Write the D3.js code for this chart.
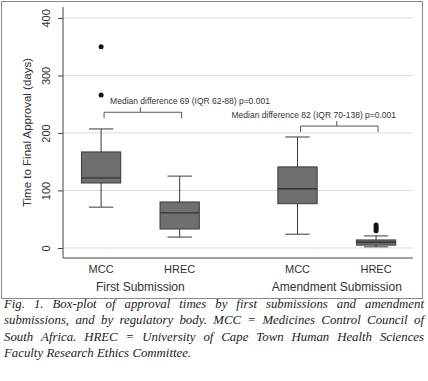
<!DOCTYPE html>
<html>
<head>
<meta charset="utf-8">
<script src="https://cdn.jsdelivr.net/npm/d3@7"></script>
<style>
  body { margin: 0; background: #fff; }
  svg { display: block; }
</style>
</head>
<body>
<div id="chart"></div>
<script>
// data
const bodies = ["MCC", "HREC", "MCC", "HREC"];
const groups = ["First Submission", "Amendment Submission"];
const positions = [0, 1, 2.5, 3.5];
const whiskLow = [71, 19, 24, 2];
const q1 = [113, 33, 77, 5];
const medians = [122, 61, 103, 10];
const q3 = [167, 80, 141, 14];
const whiskHigh = [207, 125, 193, 21];
const outliers = [[266, 350], [], [], [30, 33, 36, 40]];
const yTicks = [0, 100, 200, 300, 400];
const notes = [
    { from: 0, to: 1, at: 236, text: "Median difference 69 (IQR 62-88) p=0.001" },
    { from: 2.5, to: 3.5, at: 212, text: "Median difference 82 (IQR 70-138) p=0.001" },
];
const caption = [
    "Fig. 1. Box-plot of approval times by first submissions and amendment",
    "submissions, and by regulatory body. MCC = Medicines Control Council of",
    "South Africa. HREC = University of Cape Town Human Health Sciences",
    "Faculty Research Ethics Committee.",
];

const width = 428;
const height = 381;

const svg = d3.select("#chart")
    .append("svg")
    .attr("width", width)
    .attr("height", height);

// outer frame of the figure
svg.append("rect")
    .attr("x", 1.5).attr("y", 1.5)
    .attr("width", 421).attr("height", 297)
    .attr("fill", "none")
    .attr("stroke", "#8a8a8a")
    .attr("stroke-width", 1);

const x = d3.scaleLinear().domain([-0.485, 3.97]).range([63, 413]);
const y = d3.scaleLinear().domain([-17.4, 419]).range([258, 7]);
const boxW = x(0.5) - x(0);
const capW = x(0.31) - x(0);

// grid
svg.append("g")
    .selectAll("line")
    .data(yTicks)
    .enter()
    .append("line")
    .attr("x1", x.range()[0]).attr("x2", x.range()[1])
    .attr("y1", (d) => y(d)).attr("y2", (d) => y(d))
    .style("stroke", "#dcdcdc")
    .style("stroke-width", 1);

// y axis
const yAxis = svg.append("g")
    .attr("transform", `translate(${x.range()[0]},0)`)
    .call(d3.axisLeft(y).tickValues(yTicks).tickSize(5).tickPadding(3));
yAxis.select(".domain").attr("d", `M0,${y.range()[1]}V${y.range()[0]}`).style("stroke", "#444");
yAxis.selectAll(".tick line").style("stroke", "#444");
yAxis.selectAll(".tick text")
    .attr("transform", "rotate(-90)")
    .attr("x", 0).attr("y", -13)
    .attr("dy", 0)
    .style("text-anchor", "middle")
    .style("font-family", "Liberation Sans, Arial, sans-serif")
    .style("font-size", "11px")
    .style("fill", "#333");

// x axis line
svg.append("line")
    .attr("x1", x.range()[0]).attr("x2", x.range()[1])
    .attr("y1", y.range()[0]).attr("y2", y.range()[0])
    .style("stroke", "#444");

svg.append("text")
    .attr("transform", `translate(31,${(y.range()[0] + y.range()[1]) / 2}) rotate(-90)`)
    .attr("text-anchor", "middle")
    .style("font-family", "Liberation Sans, Arial, sans-serif")
    .style("font-size", "11.5px")
    .style("fill", "#333")
    .text("Time to Final Approval (days)");

// boxes
const boxes = svg.append("g")
    .selectAll("g")
    .data(bodies.map((b, i) => ({ i, b })))
    .enter()
    .append("g");

boxes.append("line")
    .attr("x1", (d) => x(positions[d.i])).attr("x2", (d) => x(positions[d.i]))
    .attr("y1", (d) => y(whiskLow[d.i])).attr("y2", (d) => y(whiskHigh[d.i]))
    .style("stroke", "#3a3a3a");

boxes.selectAll(".cap")
    .data((d) => [whiskLow[d.i], whiskHigh[d.i]].map((v) => ({ v, p: positions[d.i] })))
    .enter()
    .append("line")
    .attr("class", "cap")
    .attr("x1", (d) => x(d.p) - capW / 2).attr("x2", (d) => x(d.p) + capW / 2)
    .attr("y1", (d) => y(d.v)).attr("y2", (d) => y(d.v))
    .style("stroke", "#3a3a3a");

boxes.append("rect")
    .attr("x", (d) => x(positions[d.i]) - boxW / 2)
    .attr("y", (d) => y(q3[d.i]))
    .attr("width", boxW)
    .attr("height", (d) => y(q1[d.i]) - y(q3[d.i]))
    .style("fill", "#6f6f6f")
    .style("stroke", "#3a3a3a");

boxes.append("line")
    .attr("x1", (d) => x(positions[d.i]) - boxW / 2).attr("x2", (d) => x(positions[d.i]) + boxW / 2)
    .attr("y1", (d) => y(medians[d.i])).attr("y2", (d) => y(medians[d.i]))
    .style("stroke", "#333")
    .style("stroke-width", 1.3);

boxes.selectAll("circle")
    .data((d) => outliers[d.i].map((v) => ({ v, p: positions[d.i] })))
    .enter()
    .append("circle")
    .attr("cx", (d) => x(d.p))
    .attr("cy", (d) => y(d.v))
    .attr("r", 2.5)
    .style("fill", "#151515");

// category labels
svg.append("g")
    .selectAll("text")
    .data(bodies)
    .enter()
    .append("text")
    .attr("x", (d, i) => x(positions[i]))
    .attr("y", 273)
    .attr("text-anchor", "middle")
    .style("font-family", "Liberation Sans, Arial, sans-serif")
    .style("font-size", "11px")
    .style("fill", "#333")
    .text((d) => d);

svg.append("g")
    .selectAll("text")
    .data(groups)
    .enter()
    .append("text")
    .attr("x", (d, i) => x((positions[i * 2] + positions[i * 2 + 1]) / 2))
    .attr("y", 291)
    .attr("text-anchor", "middle")
    .style("font-family", "Liberation Sans, Arial, sans-serif")
    .style("font-size", "12px")
    .style("fill", "#333")
    .text((d) => d);

// median difference brackets
const legPx = 6;
const note = svg.append("g")
    .selectAll("g")
    .data(notes)
    .enter()
    .append("g");

note.append("path")
    .attr("d", (d) => {
        const yy = y(d.at);
        const mid = (x(d.from) + x(d.to)) / 2;
        return `M${x(d.from) + 3},${yy + legPx}V${yy}H${x(d.to) + 2}V${yy + legPx}M${mid},${yy}V${yy - 5}`;
    })
    .attr("fill", "none")
    .style("stroke", "#444")
    .style("stroke-width", 0.9);

note.append("text")
    .attr("x", (d, i) => i === 0 ? x(d.from) + 9 : x(d.to) + 20)
    .attr("y", (d) => y(d.at) - 8)
    .attr("text-anchor", (d, i) => i === 0 ? "start" : "end")
    .style("font-family", "Liberation Sans, Arial, sans-serif")
    .style("font-size", "8.5px")
    .style("fill", "#333")
    .text((d) => d.text);

// caption, justified like the journal text
const capLeft = 4, capRight = 424, lineH = 16.4, firstBase = 308;
caption.forEach((line, li) => {
    const words = line.split(" ");
    const g = svg.append("g");
    const t = g.selectAll("text")
        .data(words)
        .enter()
        .append("text")
        .attr("y", firstBase + li * lineH)
        .style("font-family", "Liberation Serif, Times New Roman, serif")
        .style("font-style", "italic")
        .style("font-size", "12.8px")
        .style("fill", "#222")
        .text((d) => d);
    const widths = t.nodes().map((n) => n.getComputedTextLength());
    const total = d3.sum(widths);
    const last = li === caption.length - 1;
    const gap = last ? 3.4 : (capRight - capLeft - total) / (words.length - 1);
    let cx = capLeft;
    t.attr("x", (d, i) => {
        const pos = cx;
        cx += widths[i] + gap;
        return pos;
    });
});
</script>
</body>
</html>
